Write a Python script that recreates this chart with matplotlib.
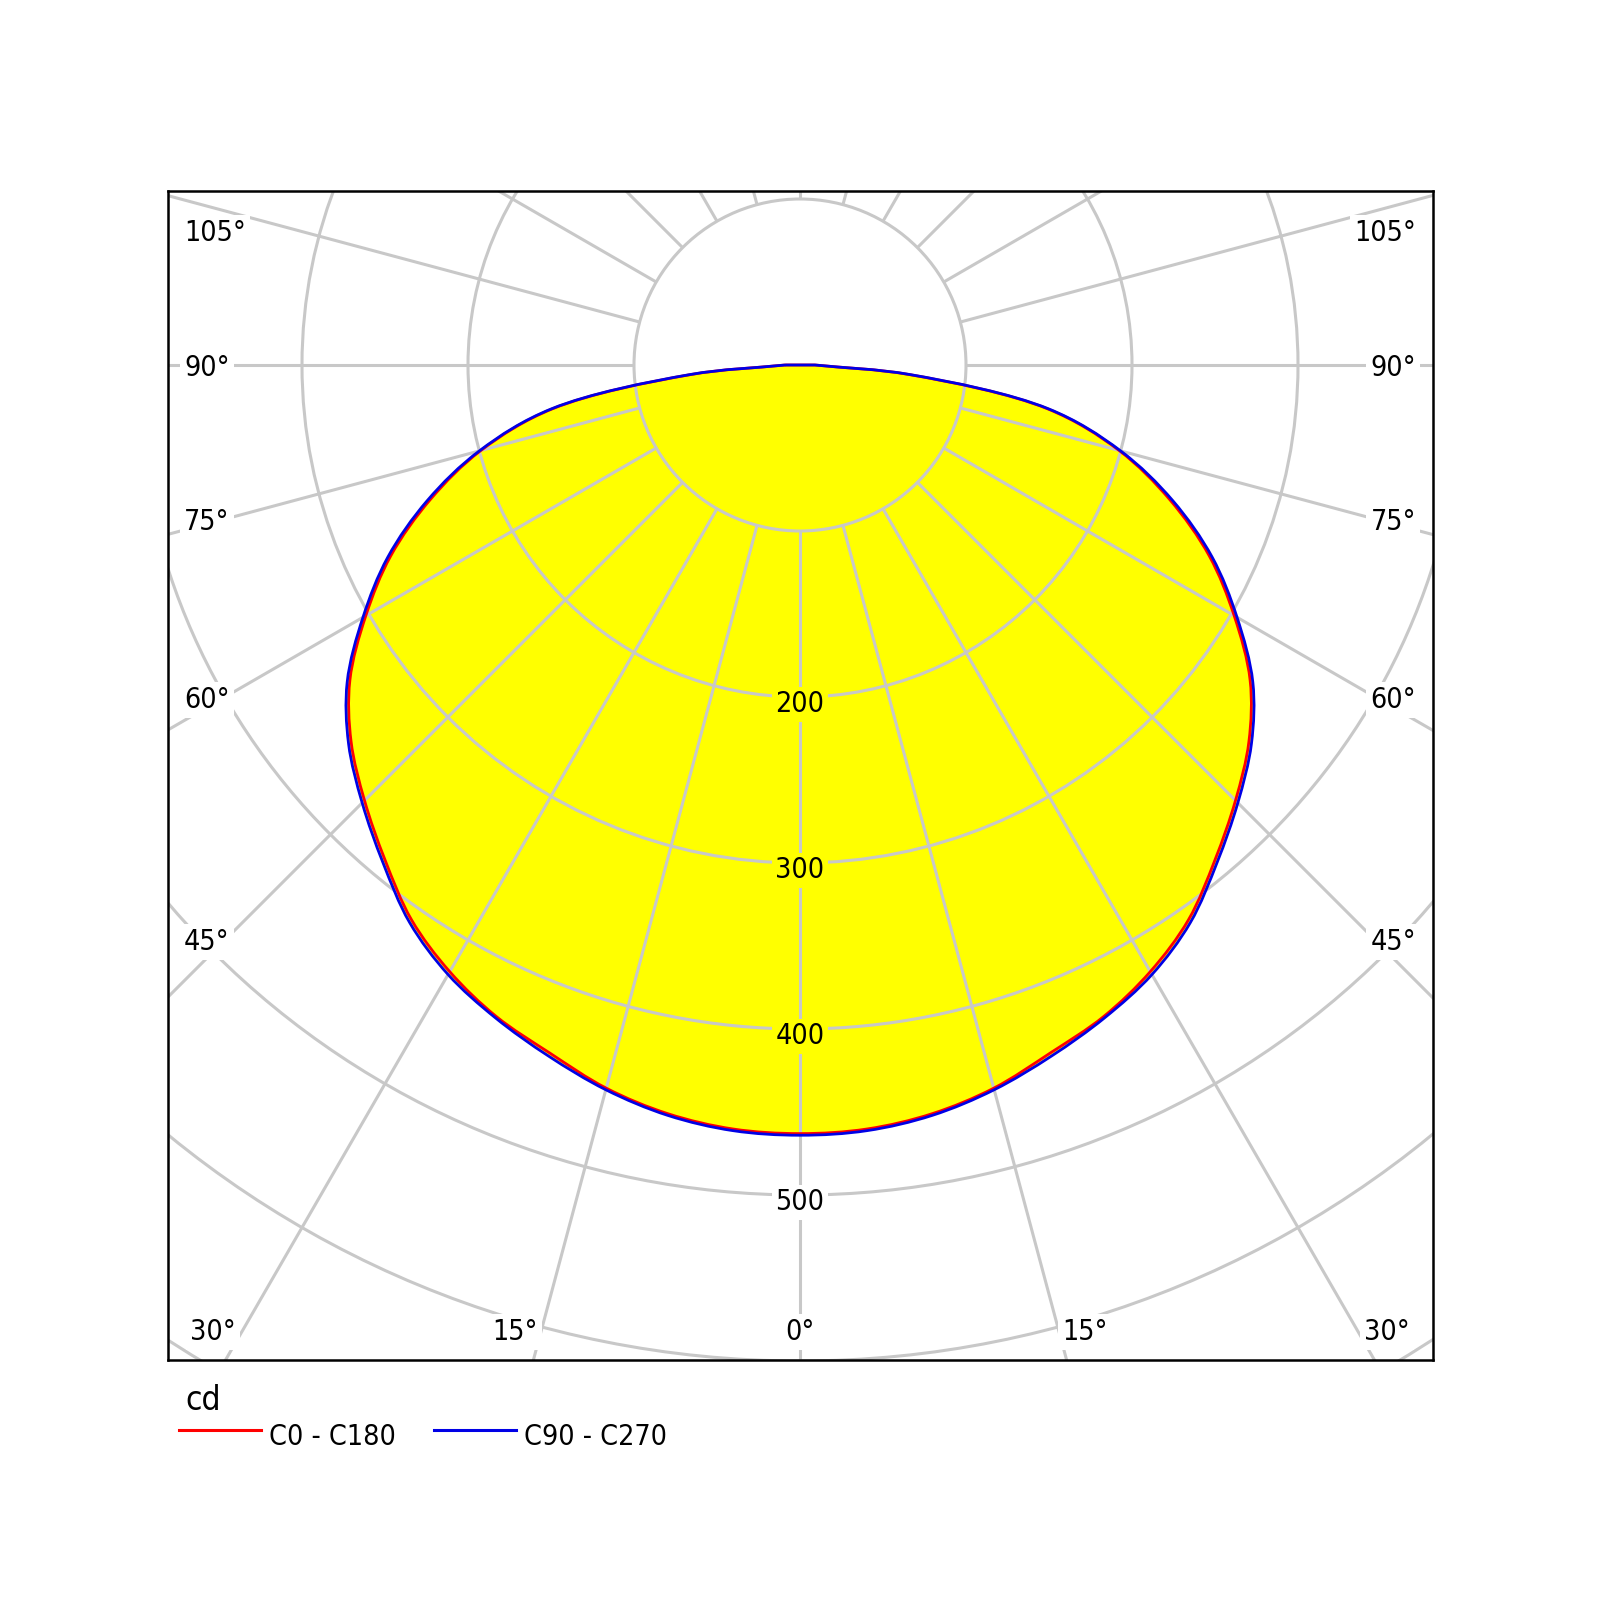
import matplotlib
matplotlib.use('Agg')
import matplotlib.pyplot as plt
import numpy as np
from matplotlib import font_manager
from matplotlib.font_manager import FontProperties
from matplotlib.patches import Circle, PathPatch
from matplotlib.path import Path
from matplotlib.lines import Line2D

# luminous intensity (cd) per gamma angle
gamma = [0, 5, 10, 15, 20, 25, 30, 35, 40, 45, 50, 55, 60, 65, 70, 75, 80, 85, 90]
c0_c180 = [463, 462, 458, 451, 441, 433, 422, 408, 389, 371, 353, 331, 302, 272, 237, 199, 151, 66, 9]
c90_c270 = [464, 463, 459, 452, 443, 434, 424, 410, 391, 373, 355, 333, 304, 274, 239, 200, 152, 67, 9]
series_names = ['C0 - C180', 'C90 - C270']
ring_values = [100, 200, 300, 400, 500, 600, 700, 800, 900, 1000]
ring_labels = [200, 300, 400, 500]
side_angles = [105, 90, 75, 60, 45]
bottom_angles = [30, 15, 0]
unit = 'cd'

# layout (pixels of the 1600x1600 canvas)
W = 1600
CX, CY = 800, 365          # pole of the diagram
PX = 1.66                  # pixels per cd
BOX = (168, 191, 1433, 1360)
GRID = '#c8c8c8'
YELLOW = '#ffff00'
RED = '#ff0000'
BLUE = '#0000e6'

cond = [f.fname for f in font_manager.fontManager.ttflist
        if 'DejaVuSansCondensed.ttf' in f.fname]

def fp(size):
    if cond:
        p = FontProperties(fname=cond[0])
    else:
        p = FontProperties(family='DejaVu Sans')
        size = size * 0.93
    p.set_size(size)
    return p

def d(px, py):
    return (px - CX) / PX, (CY - py) / PX

fig = plt.figure(figsize=(16, 16), dpi=100)
x0, y0, x1, y1 = BOX
ax = fig.add_axes([x0 / W, 1 - y1 / W, (x1 - x0) / W, (y1 - y0) / W])
ax.set_xlim(d(x0, 0)[0], d(x1, 0)[0])
ax.set_ylim(d(0, y1)[1], d(0, y0)[1])
ax.set_xticks([])
ax.set_yticks([])
for s in ax.spines.values():
    s.set_linewidth(1.8)
    s.set_color('black')
    s.set_zorder(10)

theta = np.radians(gamma)

def ctrl(p0, p1, p2):
    # centripetal Catmull-Rom tangent control point leaving p1 towards p2
    a = np.sqrt(np.hypot(*(p1 - p0)))
    b = np.sqrt(np.hypot(*(p2 - p1)))
    if a < 1e-9:
        return p1 + (p2 - p1) / 3
    return (a * a * p2 - b * b * p0 + (2 * a * a + 3 * a * b + b * b) * p1) / (3 * a * (a + b))

def outline_path(vals, closed):
    # left half (C180 / C270) from 90 deg down to 0, then right half back up
    v = np.asarray(vals, dtype=float)
    xl = -v * np.sin(theta)
    yl = -v * np.cos(theta)
    pts = np.column_stack([np.concatenate([xl[::-1], -xl[1:]]),
                           np.concatenate([yl[::-1], yl[1:]])])
    ext = np.vstack([pts[:1], pts, pts[-1:]])
    verts = [pts[0]]
    codes = [Path.MOVETO]
    for i in range(len(pts) - 1):
        p0, p1, p2, p3 = ext[i], ext[i + 1], ext[i + 2], ext[i + 3]
        verts += [ctrl(p0, p1, p2), ctrl(p3, p2, p1), p2]
        codes += [Path.CURVE4] * 3
    verts.append(pts[0])
    codes.append(Path.LINETO)
    if closed:
        verts.append(pts[0])
        codes.append(Path.CLOSEPOLY)
    return Path(np.array(verts), codes)

# filled distribution
for vals in (c0_c180, c90_c270):
    ax.add_patch(PathPatch(outline_path(vals, True), fc=YELLOW, ec='none', zorder=1))

# polar grid
for r in ring_values:
    ax.add_patch(Circle((0, 0), r, fill=False, ec=GRID, lw=2.2, zorder=2))
r_in, r_out = ring_values[0], ring_values[-1]
for a in range(0, 360, 15):
    t = np.radians(a)
    ax.plot([r_in * np.sin(t), r_out * np.sin(t)],
            [-r_in * np.cos(t), -r_out * np.cos(t)],
            color=GRID, lw=2.2, zorder=2, solid_capstyle='butt')

# curves
for vals, col in ((c0_c180, RED), (c90_c270, BLUE)):
    ax.add_patch(PathPatch(outline_path(vals, False), fc='none', ec=col,
                           lw=2.0, zorder=3, joinstyle='round'))

# radial value labels
for v in ring_labels:
    bg = YELLOW if v < min(c0_c180[0], c90_c270[0]) else 'white'
    ax.text(0, -v - 2.5, str(v), ha='center', va='center_baseline',
            fontproperties=fp(20.5), zorder=5,
            bbox=dict(boxstyle='square,pad=0.12', fc=bg, ec='none'))

# angle labels
side_y = {105: 230, 90: 365, 75: 519, 60: 697, 45: 939}
for a in side_angles:
    for px, ha in ((184, 'left'), (1416, 'right')):
        x, y = d(px, side_y[a])
        ax.text(x, y, '%d°' % a, ha=ha, va='center_baseline',
                fontproperties=fp(20.5), zorder=5,
                bbox=dict(boxstyle='square,pad=0.15', fc='white', ec='none'))
bottom_dx = {30: 587, 15: 285, 0: 0}
for a in bottom_angles:
    sides = (-1, 1) if a else (1,)
    for sgn in sides:
        x, y = d(CX + sgn * bottom_dx[a], 1329)
        ax.text(x, y, '%d°' % a, ha='center', va='center_baseline',
                fontproperties=fp(20.5), zorder=5,
                bbox=dict(boxstyle='square,pad=0.15', fc='white', ec='none'))

# unit and legend below the frame
fig.text(185 / W, 1 - 1410 / W, unit, ha='left', va='baseline', fontproperties=fp(24))
legend_items = [(series_names[0], RED, 179), (series_names[1], BLUE, 434)]
for name, col, lx in legend_items:
    fig.add_artist(Line2D([lx / W, (lx + 82) / W], [1 - 1430 / W] * 2,
                          color=col, lw=2.2, transform=fig.transFigure))
    fig.text((lx + 90) / W, 1 - 1434 / W, name, ha='left', va='center_baseline',
             fontproperties=fp(20.5))

fig.savefig('out.png', dpi=100, facecolor='white')
